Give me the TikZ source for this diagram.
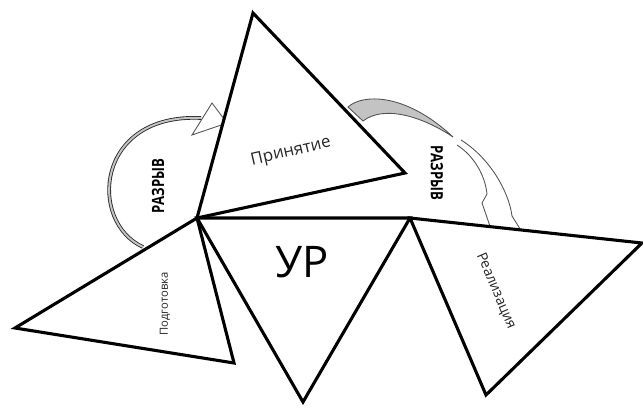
\documentclass[tikz,border=0pt]{standalone}
\usepackage{fontspec}
\setmainfont{Open Sans}
\usepackage{graphicx}
\usepackage{xcolor}
\definecolor{gapfill}{RGB}{195,195,195}
\definecolor{gapedge}{RGB}{80,80,80}
\usetikzlibrary{positioning,calc}

\begin{document}
\begin{tikzpicture}[
  x=0.025cm, y=0.025cm,
  phase/.style={draw=black, line width=2.2pt, fill=white},
  gaparc/.style={draw=black!85, line width=0.6pt, double=gapfill, double distance=1.4pt},
  gapshape/.style={draw=gapedge, line width=0.6pt},
  phaselabel/.style={inner sep=0pt, text=black!85},
  gaplabel/.style={inner sep=0pt, font=\fontsize{12}{12}\selectfont\bfseries}
]
\useasboundingbox (0,0) rectangle (643,-408);

% vertices
\coordinate (ur1) at (197,-218);
\coordinate (ur2) at (410,-218);
\coordinate (ur3) at (303,-402);
\coordinate (pt1) at (253,-13);
\coordinate (pt2) at (405,-173);
\coordinate (pd1) at (15,-328);
\coordinate (pd2) at (234,-363);
\coordinate (rl1) at (642,-243);
\coordinate (rl2) at (486,-395);

% gap arrows first, the triangles hide their ends
\coordinate (gap1s) at (143,-247);
\coordinate (gap1e) at (201,-118);
\draw[gaparc] (gap1s) .. controls (88,-222) and (95,-113) .. (gap1e);
\draw[gapshape, fill=white] (212,-103) -- (227,-123) -- (192,-135) -- cycle;

\draw[gapshape, fill=gapfill] (348,-107) .. controls (362,-94) and (405,-92) .. (453,-137)
  .. controls (425,-118) and (385,-104) .. (363,-121) -- cycle;
\fill[white] (461,-140) .. controls (490,-158) and (509,-192) .. (512,-216)
  -- (524,-232) -- (497,-250) -- (482,-203) -- (487,-194)
  .. controls (485,-175) and (474,-156) .. (457,-145) -- cycle;
\draw[gapshape] (461,-140) .. controls (490,-158) and (509,-192) .. (512,-216) -- (522,-232);
\draw[gapshape] (457,-145) .. controls (474,-156) and (485,-175) .. (487,-194)
  -- (482,-203) -- (492,-232);

% triangles
\draw[phase] (pd1) -- (ur1) -- (pd2) -- cycle;
\draw[phase] (ur1) -- (ur2) -- (ur3) -- cycle;
\draw[phase] (ur2) -- (rl1) -- (rl2) -- cycle;
\draw[phase] (ur1) -- (pt1) -- (pt2) -- cycle;

\node[inner sep=0pt, font=\fontsize{31}{31}\selectfont] (ur) at (302,-262) {УР};
\node[phaselabel, rotate=13, font=\fontsize{12}{12}\selectfont] (prin) at (291,-152) {Принятие};
\node[phaselabel, rotate=90, font=\fontsize{8}{8}\selectfont] (podg) at (165,-304) {Подготовка};
\node[phaselabel, rotate=-67, font=\fontsize{10}{10}\selectfont] (real) at (496,-291) {Реализация};
\node[gaplabel, rotate=90] (gap1) at (158,-186) {\scalebox{0.78}[1]{РАЗРЫВ}};
\node[gaplabel, rotate=-90] (gap2) at (437,-173) {\scalebox{0.78}[1]{РАЗРЫВ}};
\end{tikzpicture}
\end{document}
